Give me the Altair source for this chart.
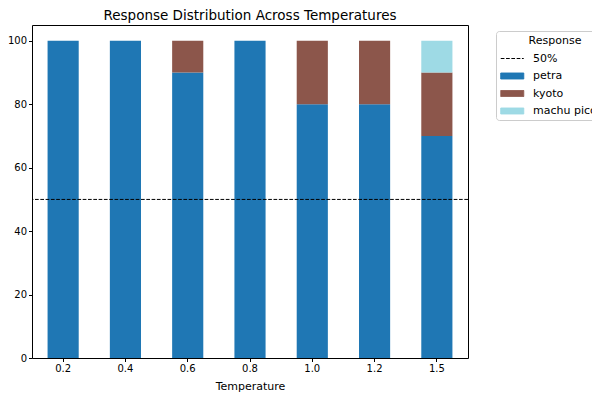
import altair as alt
import pandas as pd

temperatures = ["0.2", "0.4", "0.6", "0.8", "1.0", "1.2", "1.5"]
responses = ["petra", "kyoto", "machu picchu"]
petra = [100, 100, 90, 100, 80, 80, 70]
kyoto = [0, 0, 10, 0, 20, 20, 20]
machu_picchu = [0, 0, 0, 0, 0, 0, 10]
threshold = 50
threshold_label = "50%"
y_ticks = [0, 20, 40, 60, 80, 100]

series = [petra, kyoto, machu_picchu]
rows = []
for i, t in enumerate(temperatures):
    for j, r in enumerate(responses):
        if series[j][i] > 0:
            rows.append({"Temperature": t, "Response": r, "Percent": series[j][i], "order": j})
df = pd.DataFrame(rows)

legend_domain = [threshold_label] + responses
color_range = ["black", "#1f77b4", "#8c564b", "#9edae5"]
dash_range = [[3.7, 1.6], [1, 0], [1, 0], [1, 0]]
LINE = "M-1,0H3"
RECT = "M-1,-0.52H3V0.52H-1Z"
shape_range = [LINE, RECT, RECT, RECT]

FONT = "DejaVu Sans"

leg = alt.Legend(title="Response", orient="none", legendX=464, legendY=6)
cscale = alt.Scale(domain=legend_domain, range=color_range)
dscale = alt.Scale(domain=legend_domain, range=dash_range)

bars = alt.Chart(df).mark_bar().encode(
    x=alt.X("Temperature:N", sort=temperatures,
            scale=alt.Scale(paddingInner=0.5, paddingOuter=0.25),
            axis=alt.Axis(labelAngle=0, title="Temperature")),
    y=alt.Y("Percent:Q", stack="zero",
            scale=alt.Scale(domain=[0, 105], nice=False),
            axis=alt.Axis(values=y_ticks, title=None)),
    color=alt.Color("Response:N", scale=cscale, legend=leg),
    order=alt.Order("order:Q"),
)

rule_df = pd.DataFrame({"Response": [threshold_label], "Percent": [threshold]})
rule = alt.Chart(rule_df).mark_rule(strokeWidth=1).encode(
    y=alt.Y("Percent:Q", title=None),
    color=alt.Color("Response:N", scale=cscale, legend=leg),
    strokeDash=alt.StrokeDash("Response:N", scale=dscale, legend=leg),
)

# legend-only layer (no rows pass the filter): gives each legend entry its symbol shape
legend_layer = alt.Chart(rule_df).mark_point(filled=True, strokeWidth=1, opacity=1).encode(
    y=alt.Y("Percent:Q", title=None),
    shape=alt.Shape("Response:N", scale=alt.Scale(domain=legend_domain, range=shape_range),
                    legend=leg),
    color=alt.Color("Response:N", scale=cscale, legend=leg),
    stroke=alt.Stroke("Response:N", scale=alt.Scale(domain=legend_domain, range=color_range),
                      legend=leg),
    strokeDash=alt.StrokeDash("Response:N", scale=dscale, legend=leg),
).transform_filter("false")

chart = alt.layer(bars, rule, legend_layer).properties(
    width=436,
    height=333,
    autosize=alt.AutoSizeParams(type="none"),
    padding={"left": 24, "top": 17, "right": 124, "bottom": 34},
    title=alt.TitleParams("Response Distribution Across Temperatures", fontSize=13.5,
                          fontWeight="normal", font=FONT, color="black", offset=3),
).configure_view(
    stroke="black", strokeWidth=1
).configure_axis(
    domain=False, grid=False, tickColor="black", tickSize=3.5,
    labelFont=FONT, labelFontSize=10, labelColor="black", labelPadding=2,
    titleFont=FONT, titleFontSize=11, titleFontWeight="normal", titleColor="black",
    titlePadding=7,
).configure_legend(
    symbolSize=132.25, symbolStrokeWidth=1, symbolOpacity=1, labelOffset=20,
    labelFont=FONT, labelFontSize=11, labelColor="black",
    titleFont=FONT, titleFontSize=11, titleFontWeight="normal", titleColor="black",
    titleAnchor="middle", titlePadding=6,
    strokeColor="#cccccc", cornerRadius=3, padding=4, fillColor="white",
    rowPadding=5.5,
)

chart.save("out.html", embed_options={"renderer": "svg", "actions": False})
